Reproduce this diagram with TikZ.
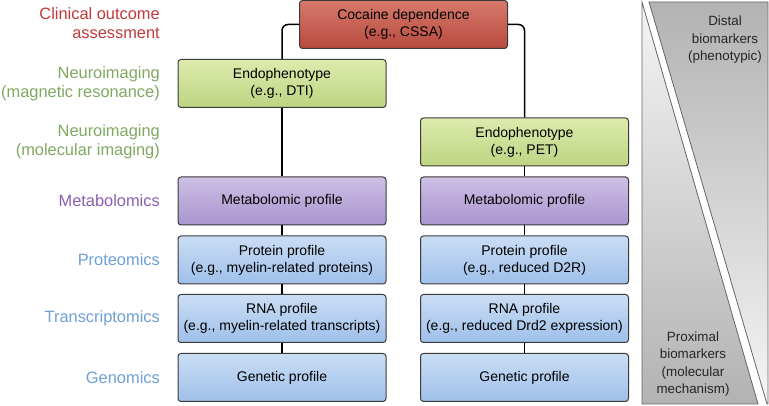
\documentclass[tikz,border=0pt]{standalone}
\usepackage{fontspec}
\setmainfont{Liberation Sans}
\usepackage{tikz}
\usetikzlibrary{calc}

\definecolor{clinred}{HTML}{C0393B}
\definecolor{neurogreen}{HTML}{7FA860}
\definecolor{metapurple}{HTML}{8A5FB0}
\definecolor{omicsblue}{HTML}{6E9FD6}
\definecolor{boxedge}{HTML}{3A3A3A}
\definecolor{redtop}{HTML}{D6796B}
\definecolor{redbot}{HTML}{B84A3F}
\definecolor{greentop}{HTML}{DDEBAD}
\definecolor{greenbot}{HTML}{BDD482}
\definecolor{purpletop}{HTML}{CDBFE4}
\definecolor{purplebot}{HTML}{AA95CF}
\definecolor{bluetop}{HTML}{CADDF4}
\definecolor{bluebot}{HTML}{9FC0EA}

\begin{document}
\begin{tikzpicture}[
    x = 1pt, y = 1pt,
    level/.style = {anchor = east,
      align = right,
      font = \fontsize{16.4}{19}\selectfont,
      inner sep = 0pt},
    profile/.style = {rectangle,
      draw = boxedge,
      line width = 1pt,
      rounded corners = 3pt,
      minimum width = 208pt,
      minimum height = 48pt,
      align = center,
      inner sep = 1pt,
      font = \fontsize{14}{17}\selectfont},
    redbox/.style = {profile, top color = redtop, bottom color = redbot},
    greenbox/.style = {profile, top color = greentop, bottom color = greenbot},
    purplebox/.style = {profile, top color = purpletop, bottom color = purplebot},
    bluebox/.style = {profile, top color = bluetop, bottom color = bluebot},
    link/.style = {line width = 1.5pt, rounded corners = 6pt},
    panel/.style = {draw = black!60, line width = 0.8pt},
    paneltext/.style = {align = center,
      font = \fontsize{13.4}{17.5}\selectfont,
      text = black!85}
    ]
    \useasboundingbox (0, 0) rectangle (769, 406);

    \node at (160, 383) [level, text = clinred, name = lclin] {Clinical outcome\\assessment};
    \node at (160, 322.5) [level, text = neurogreen, name = lmr] {Neuroimaging\\(magnetic resonance)};
    \node at (160, 264) [level, text = neurogreen, name = lpet] {Neuroimaging\\(molecular imaging)};
    \node at (160, 205) [level, text = metapurple, name = lmeta] {Metabolomics};
    \node at (160, 146) [level, text = omicsblue, name = lprot] {Proteomics};
    \node at (160, 87.5) [level, text = omicsblue, name = ltrans] {Transcriptomics};
    \node at (160, 28.5) [level, text = omicsblue, name = lgen] {Genomics};

    \node at (403.5, 381.5) [redbox, name = coc] {Cocaine dependence\\(e.g., CSSA)};

    \node at (282, 322.5) [greenbox, name = endoL] {Endophenotype\\(e.g., DTI)};
    \node at (282, 205) [purplebox, name = metaL] {Metabolomic profile};
    \node at (282, 146) [bluebox, name = protL] {Protein profile\\(e.g., myelin-related proteins)};
    \node at (282, 87.5) [bluebox, name = rnaL] {RNA profile\\(e.g., myelin-related transcripts)};
    \node at (282, 28.5) [bluebox, name = genL] {Genetic profile};

    \node at (524.5, 264) [greenbox, name = endoR] {Endophenotype\\(e.g., PET)};
    \node at (524.5, 205) [purplebox, name = metaR] {Metabolomic profile};
    \node at (524.5, 146) [bluebox, name = protR] {Protein profile\\(e.g., reduced D2R)};
    \node at (524.5, 87.5) [bluebox, name = rnaR] {RNA profile\\(e.g., reduced Drd2 expression)};
    \node at (524.5, 28.5) [bluebox, name = genR] {Genetic profile};

    \draw [link] (coc.west) -| (endoL.north);
    \draw [link] (coc.east) -| (endoR.north);

    \draw [link] (endoL) -- (metaL);
    \draw [link] (metaL) -- (protL);
    \draw [link] (protL) -- (rnaL);
    \draw [link] (rnaL) -- (genL);

    \draw [link] (endoR) -- (metaR);
    \draw [link] (metaR) -- (protR);
    \draw [link] (protR) -- (rnaR);
    \draw [link] (rnaR) -- (genR);

    \shade [top color = black!4, bottom color = black!30] (642, 404) -- (642, 2) -- (758, 2) -- cycle;
    \draw [panel] (642, 404) -- (642, 2) -- (758, 2) -- cycle;
    \shade [top color = black!30, bottom color = black!4] (649, 404) -- (768, 404) -- (768, 2) -- (767, 2) -- cycle;
    \draw [panel] (649, 404) -- (768, 404) -- (768, 2) -- (767, 2) -- cycle;

    \node at (725, 366) [paneltext, name = distal] {Distal\\biomarkers\\(phenotypic)};
    \node at (693, 42) [paneltext, name = proximal] {Proximal\\biomarkers\\(molecular\\mechanism)};
  \end{tikzpicture}
\end{document}
